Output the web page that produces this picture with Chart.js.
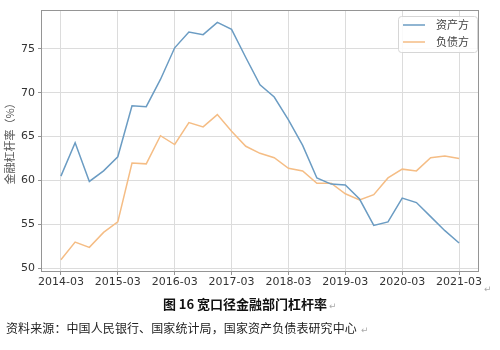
<!DOCTYPE html>
<html>
<head>
<meta charset="utf-8">
<script src="https://cdn.jsdelivr.net/npm/chart.js@4.4.1/dist/chart.umd.min.js"></script>
<style>
  body { margin: 0; background: #fff; }
  #wrap { position: relative; width: 500px; height: 350px; overflow: hidden; }
  #chart { position: absolute; left: 0; top: 0; }
  .cjk { position: absolute; white-space: nowrap; font-family: "Noto Sans CJK SC", sans-serif; line-height: 16px; }
  #title { left: 0; width: 490px; top: 296px; text-align: center; font-size: 13px; font-weight: bold; color: #111; }
  #source { left: 6px; top: 320px; font-size: 12px; letter-spacing: 0.1px; color: #222; }
  .mark { position: absolute; font-family: "DejaVu Sans", sans-serif; font-size: 9px; color: #aaa; line-height: 10px; }
</style>
</head>
<body>
<div id="wrap">
  <canvas id="chart" width="500" height="295"></canvas>
  <div id="title" class="cjk">图 16 宽口径金融部门杠杆率</div>
  <div id="source" class="cjk">资料来源：中国人民银行、国家统计局，国家资产负债表研究中心</div>
  <span class="mark" style="left:484px;top:284px">↵</span>
  <span class="mark" style="left:329px;top:301px">↵</span>
  <span class="mark" style="left:361px;top:325px">↵</span>
</div>
<script>
const quarters = [
  '2014-03', '2014-06', '2014-09', '2014-12',
  '2015-03', '2015-06', '2015-09', '2015-12',
  '2016-03', '2016-06', '2016-09', '2016-12',
  '2017-03', '2017-06', '2017-09', '2017-12',
  '2018-03', '2018-06', '2018-09', '2018-12',
  '2019-03', '2019-06', '2019-09', '2019-12',
  '2020-03', '2020-06', '2020-09', '2020-12',
  '2021-03'
];

// 资产方
const assetSide = [
  60.5, 64.3, 59.9, 61.1, 62.7, 68.5, 68.4, 71.5,
  75.1, 76.9, 76.6, 78.0, 77.2, 74.0, 70.9, 69.5,
  66.9, 64.0, 60.3, 59.6, 59.5, 57.9, 54.9, 55.3,
  58.0, 57.5, 55.9, 54.3, 52.9
];

// 负债方
const liabilitySide = [
  51.0, 53.0, 52.4, 54.1, 55.3, 62.0, 61.9, 65.1,
  64.1, 66.6, 66.1, 67.5, 65.6, 63.9, 63.1, 62.6,
  61.4, 61.1, 59.7, 59.7, 58.5, 57.8, 58.4, 60.3,
  61.3, 61.1, 62.6, 62.8, 62.5
];

const toPoints = arr => arr.map((v, i) => ({ x: i, y: v }));

const tickFont = { family: 'DejaVu Sans', size: 11 };

// frame around the plot area plus the boxed legend in the top right corner
const framePlugin = {
  id: 'frame',
  afterDatasetsDraw(chart) {
    const { ctx, chartArea: a } = chart;
    ctx.save();
    ctx.strokeStyle = '#959595';
    ctx.lineWidth = 1;
    ctx.strokeRect(a.left + 0.5, a.top + 0.5, a.right - a.left - 1, a.bottom - a.top - 1);

    const w = 79, h = 36;
    const x = a.right - w - 2, y = a.top + 6;
    ctx.fillStyle = 'rgba(255,255,255,0.85)';
    ctx.strokeStyle = '#d6d6d6';
    ctx.beginPath();
    ctx.roundRect(x + 0.5, y + 0.5, w, h, 3);
    ctx.fill();
    ctx.stroke();

    ctx.font = '11px "Noto Sans CJK SC"';
    ctx.textBaseline = 'middle';
    chart.data.datasets.forEach((ds, i) => {
      const ly = y + 9 + i * 17;
      ctx.strokeStyle = ds.borderColor;
      ctx.lineWidth = ds.borderWidth;
      ctx.beginPath();
      ctx.moveTo(x + 5, ly);
      ctx.lineTo(x + 27, ly);
      ctx.stroke();
      ctx.fillStyle = '#444';
      ctx.fillText(ds.label, x + 38, ly);
    });
    ctx.restore();
  }
};

new Chart(document.getElementById('chart'), {
  type: 'line',
  data: {
    datasets: [
      {
        label: '资产方',
        data: toPoints(assetSide),
        borderColor: '#6b9cc3',
        borderWidth: 1.5,
        pointRadius: 0,
        tension: 0
      },
      {
        label: '负债方',
        data: toPoints(liabilitySide),
        borderColor: '#f5bd85',
        borderWidth: 1.5,
        pointRadius: 0,
        tension: 0
      }
    ]
  },
  options: {
    responsive: false,
    animation: false,
    devicePixelRatio: 1,
    layout: { padding: { top: 10, right: 21, left: 0, bottom: 0 } },
    plugins: {
      legend: { display: false },
      tooltip: { enabled: false }
    },
    scales: {
      x: {
        type: 'linear',
        min: -1.4,
        max: 29.4,
        afterFit: s => { s.height = 23; },
        border: { display: false },
        grid: { color: '#dcdcdc', tickLength: 3, tickColor: '#959595' },
        ticks: {
          stepSize: 4,
          includeBounds: false,
          maxRotation: 0,
          padding: 1,
          color: '#333',
          font: tickFont,
          callback: v => (v % 4 === 0 ? quarters[v] : null)
        }
      },
      y: {
        min: 49.6,
        max: 79.4,
        afterFit: s => { s.width = 41; },
        border: { display: false },
        grid: { color: '#dcdcdc', tickLength: 3, tickColor: '#959595' },
        ticks: {
          stepSize: 5,
          includeBounds: false,
          padding: 3,
          color: '#333',
          font: tickFont
        },
        title: {
          display: true,
          text: '金融杠杆率（%）',
          color: '#555',
          font: { family: 'Noto Sans CJK SC', size: 11 },
          padding: { top: 3, bottom: 0 }
        }
      }
    }
  },
  plugins: [framePlugin]
});
</script>
</body>
</html>
